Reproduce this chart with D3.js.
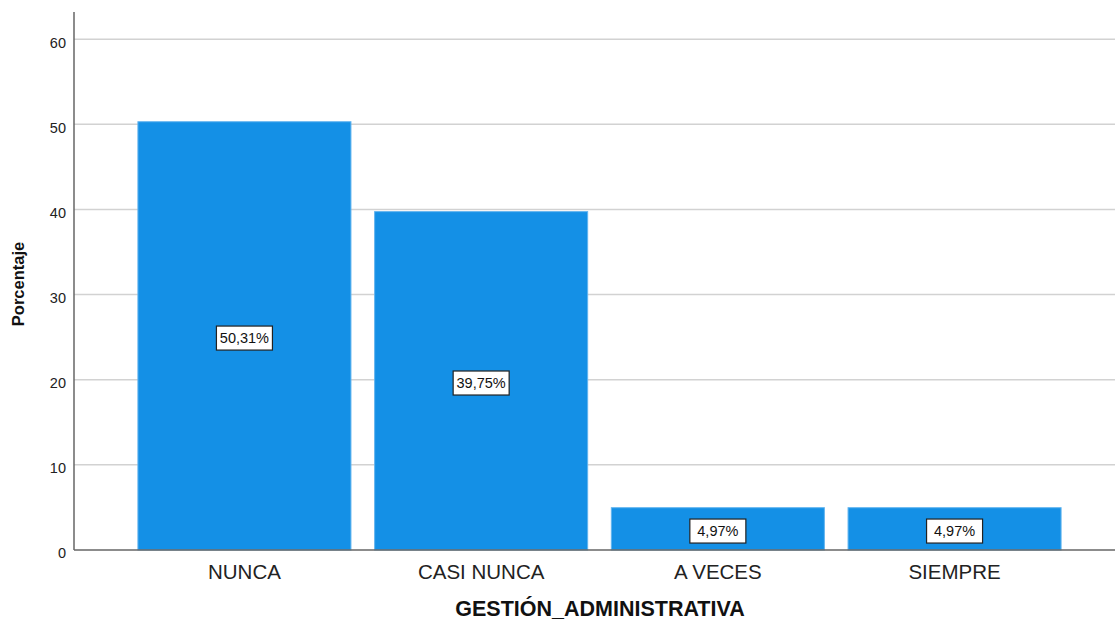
<!DOCTYPE html>
<html>
<head>
<meta charset="utf-8">
<script src="https://cdnjs.cloudflare.com/ajax/libs/d3/7.8.5/d3.min.js"></script>
<style>
	html, body { margin: 0; padding: 0; background: #fff; }
	svg { display: block; font-family: Arial, "Liberation Sans", sans-serif; }
</style>
</head>
<body>
<div id="chart"></div>
<script>
// values
var categories = ["NUNCA", "CASI NUNCA", "A VECES", "SIEMPRE"];
var percents = [50.31, 39.75, 4.97, 4.97];
var yTicks = [0, 10, 20, 30, 40, 50, 60];
var xTitle = "GESTIÓN_ADMINISTRATIVA";
var yTitle = "Porcentaje";

var winW = 1115,
	winH = 626;

var svg = d3.select("#chart").append("svg")
	.attr("width", winW)
	.attr("height", winH);

// note: "top" is taken by window.top, so plotTop
var plotLeft = 74,
	plotBottom = 550,
	plotTop = 12;

var x = d3.scaleBand()
	.domain(categories)
	.range([plotLeft, 1125])
	.paddingInner(0.1)
	.paddingOuter(0.27);

var y = d3.scaleLinear()
	.domain([0, 63.2])
	.range([plotBottom, plotTop]);

// grid lines
svg.append("g")
	.selectAll("line")
	.data(yTicks.filter(function (d) { return d > 0; }))
	.enter().append("line")
	.attr("x1", plotLeft)
	.attr("x2", winW)
	.attr("y1", function (d) { return y(d); })
	.attr("y2", function (d) { return y(d); })
	.attr("stroke", "#d2d2d2")
	.attr("stroke-width", 1.5);

// bars
svg.append("g")
	.selectAll("rect")
	.data(percents)
	.enter().append("rect")
	.attr("x", function (d, i) { return x(categories[i]); })
	.attr("y", function (d) { return y(d); })
	.attr("width", x.bandwidth())
	.attr("height", function (d) { return y(0) - y(d); })
	.attr("fill", "#1490e6")
	.attr("stroke", "#62b4ef")
	.attr("stroke-width", 1);

// Left Axis
var yAxis = svg.append("g")
	.attr("transform", "translate(" + plotLeft + ",0)")
	.call(d3.axisLeft(y).tickValues(yTicks).tickSize(0).tickPadding(8));
yAxis.select(".domain").remove();
yAxis.selectAll("text")
	.attr("dy", "0.55em")
	.attr("font-size", "14.5px")
	.attr("font-family", "Arial, 'Liberation Sans', sans-serif")
	.attr("fill", "#222");

svg.append("line")
	.attr("x1", plotLeft).attr("x2", plotLeft)
	.attr("y1", plotTop).attr("y2", plotBottom)
	.attr("stroke", "#666")
	.attr("stroke-width", 1.5);

// Bottom Axis
var xAxis = svg.append("g")
	.attr("transform", "translate(0," + plotBottom + ")")
	.call(d3.axisBottom(x).tickSize(0).tickPadding(0));
xAxis.select(".domain").remove();
xAxis.selectAll("text")
	.attr("y", 29)
	.attr("dy", 0)
	.attr("font-size", "20.5px")
	.attr("font-family", "Arial, 'Liberation Sans', sans-serif")
	.attr("fill", "#222");

svg.append("line")
	.attr("x1", plotLeft).attr("x2", winW)
	.attr("y1", plotBottom).attr("y2", plotBottom)
	.attr("stroke", "#666")
	.attr("stroke-width", 1.5);

// value labels in boxes
var lab = svg.append("g")
	.selectAll("g")
	.data(percents)
	.enter().append("g")
	.attr("transform", function (d, i) {
		return "translate(" + (x(categories[i]) + x.bandwidth() / 2) + "," + (y(d / 2) + 2.2) + ")";
	});

lab.append("rect")
	.attr("x", -28)
	.attr("y", -12)
	.attr("width", 56)
	.attr("height", 24)
	.attr("fill", "#fff")
	.attr("stroke", "#222")
	.attr("stroke-width", 1.2);

lab.append("text")
	.attr("text-anchor", "middle")
	.attr("dy", "0.36em")
	.attr("font-size", "14.5px")
	.attr("fill", "#111")
	.text(function (d) { return d.toFixed(2).replace(".", ",") + "%"; });

// titles
svg.append("text")
	.attr("x", 600)
	.attr("y", 616)
	.attr("text-anchor", "middle")
	.attr("font-size", "21.5px")
	.attr("font-weight", "bold")
	.attr("fill", "#111")
	.text(xTitle);

svg.append("text")
	.attr("transform", "translate(24,284) rotate(-90)")
	.attr("text-anchor", "middle")
	.attr("font-size", "16.5px")
	.attr("font-weight", "bold")
	.attr("fill", "#111")
	.text(yTitle);
</script>
</body>
</html>
